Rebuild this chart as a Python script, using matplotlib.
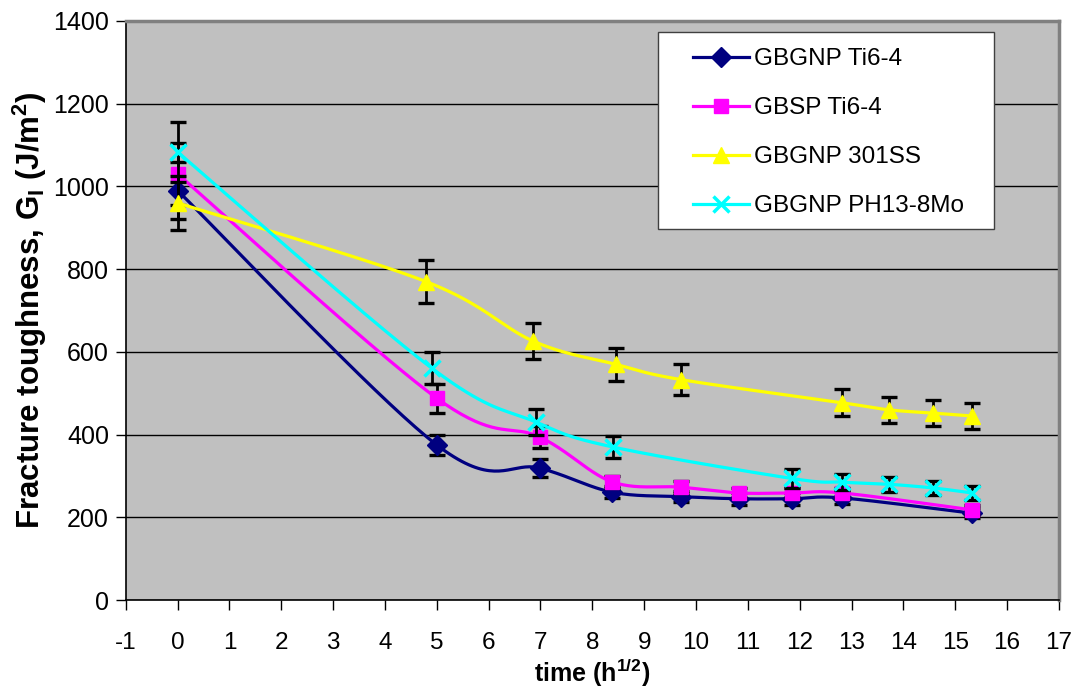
import numpy as np
import matplotlib
matplotlib.use("Agg")
from matplotlib import pyplot
from matplotlib.patches import Rectangle

# fracture toughness vs sqrt(time) for four alloys
ti_x = [0, 5.0, 6.99, 8.38, 9.71, 10.83, 11.85, 12.82, 15.33]
gbgnp_ti_y = [990, 375, 319, 261, 250, 245, 245, 247, 210]
gbgnp_ti_err = [70, 25, 22, 14, 14, 14, 14, 14, 12]
gbsp_ti_y = [1030, 488, 394, 286, 273, 259, 259, 259, 218]
gbsp_ti_err = [75, 35, 26, 15, 14, 12, 12, 12, 12]

ss_x = [0, 4.79, 6.86, 8.45, 9.71, 12.82, 13.72, 14.58, 15.33]
ss_y = [960, 770, 626, 570, 533, 477, 460, 452, 445]
ss_err = [65, 53, 43, 40, 37, 33, 32, 31, 31]

ph_x = [0, 4.9, 6.92, 8.4, 11.85, 12.82, 13.72, 14.58, 15.33]
ph_y = [1083, 561, 430, 370, 294, 285, 280, 271, 259]
ph_err = [73, 38, 32, 27, 22, 20, 18, 17, 18]

labels = ["GBGNP Ti6-4", "GBSP Ti6-4", "GBGNP 301SS", "GBGNP PH13-8Mo"]
colors = ["#000080", "#FF00FF", "#FFFF00", "#00FFFF"]
markers = ["D", "s", "^", "x"]
msizes = [10, 10.5, 12, 11]

pyplot.rcParams['font.family'] = ['Liberation Sans', 'DejaVu Sans']
pyplot.rcParams['axes.unicode_minus'] = False
pyplot.rcParams['mathtext.fontset'] = 'custom'
pyplot.rcParams['mathtext.rm'] = 'Liberation Sans'
pyplot.rcParams['mathtext.bf'] = 'Liberation Sans:bold'


def smooth(x, y, n=40):
    # bezier smoothing between points, like spreadsheet "smoothed line"
    x = np.asarray(x, float)
    y = np.asarray(y, float)
    px = np.concatenate([[x[0]], x, [x[-1]]])
    py = np.concatenate([[y[0]], y, [y[-1]]])
    t = np.linspace(0, 1, n)
    xs, ys = [], []
    for i in range(1, len(px) - 2):
        p0 = np.array([px[i], py[i]])
        p3 = np.array([px[i + 1], py[i + 1]])
        c1 = p0 + (np.array([px[i + 1], py[i + 1]]) - np.array([px[i - 1], py[i - 1]])) / 6
        c2 = p3 - (np.array([px[i + 2], py[i + 2]]) - np.array([px[i], py[i]])) / 6
        b = ((1 - t) ** 3)[:, None] * p0 + (3 * (1 - t) ** 2 * t)[:, None] * c1 \
            + (3 * (1 - t) * t ** 2)[:, None] * c2 + (t ** 3)[:, None] * p3
        xs.extend(b[:, 0])
        ys.extend(b[:, 1])
    return xs, ys


fig = pyplot.figure(figsize=(10.75, 6.97), dpi=100)
ax = fig.add_axes([0.117, 0.139, 0.868, 0.831])
ax.set_facecolor("#C0C0C0")

series = [
    (ti_x, gbgnp_ti_y, gbgnp_ti_err),
    (ti_x, gbsp_ti_y, gbsp_ti_err),
    (ss_x, ss_y, ss_err),
    (ph_x, ph_y, ph_err),
]

handles = []
for i, (xv, yv, ev) in enumerate(series):
    ax.errorbar(xv, yv, yerr=ev, fmt="none", ecolor="black", elinewidth=2,
                capsize=5.5, capthick=2.4, zorder=3 + i)
    sx, sy = smooth(xv, yv)
    ax.plot(sx, sy, color=colors[i], lw=2.3, zorder=3 + i)
    mew = 2.5 if markers[i] == "x" else 1
    ax.plot(xv, yv, ls="none", marker=markers[i], color=colors[i], ms=msizes[i],
            mew=mew, zorder=3.5 + i)
    h, = ax.plot([], [], color=colors[i], lw=2.3, marker=markers[i], ms=msizes[i], mew=mew)
    handles.append(h)

ax.set_xlim(-1, 17)
ax.set_ylim(0, 1400)
ax.set_xticks(np.arange(-1, 18, 1))
ax.set_yticks(np.arange(0, 1401, 200))
ax.yaxis.grid(True, color="black", lw=1)
ax.set_axisbelow(True)

for s in ["top", "right"]:
    ax.spines[s].set_color("#808080")
    ax.spines[s].set_linewidth(2.5)
ax.spines["left"].set_color("black")
ax.spines["bottom"].set_color("black")
ax.spines["left"].set_linewidth(1.2)
ax.spines["bottom"].set_linewidth(1.2)

ax.tick_params(axis="both", direction="out", length=7, width=1, colors="black")
ax.tick_params(axis="y", labelsize=18, pad=5)
ax.tick_params(axis="x", labelsize=17.5, pad=16)

ax.set_ylabel(r"Fracture toughness, G$_\mathbf{I}$ (J/m$^\mathbf{2}$)", fontsize=22.5,
              fontweight="bold", labelpad=3)
ax.set_xlabel(r"time (h$^\mathbf{1/2}$)", fontsize=18, fontweight="bold")
ax.xaxis.set_label_coords(0.5, -0.098)

# legend box drawn as a plain white rectangle, entries placed inside it
ax.add_patch(Rectangle((0.570, 0.641), 0.361, 0.340, transform=ax.transAxes,
                       facecolor="white", edgecolor="#404040", lw=1, zorder=10))
leg = ax.legend(handles, labels, loc="upper left", bbox_to_anchor=(0.608, 0.953),
                fontsize=17.5, frameon=False, labelspacing=1.11,
                handlelength=2.3, handletextpad=0.2, borderpad=0, borderaxespad=0)
leg.set_zorder(11)

fig.savefig("out.png", dpi=100)
